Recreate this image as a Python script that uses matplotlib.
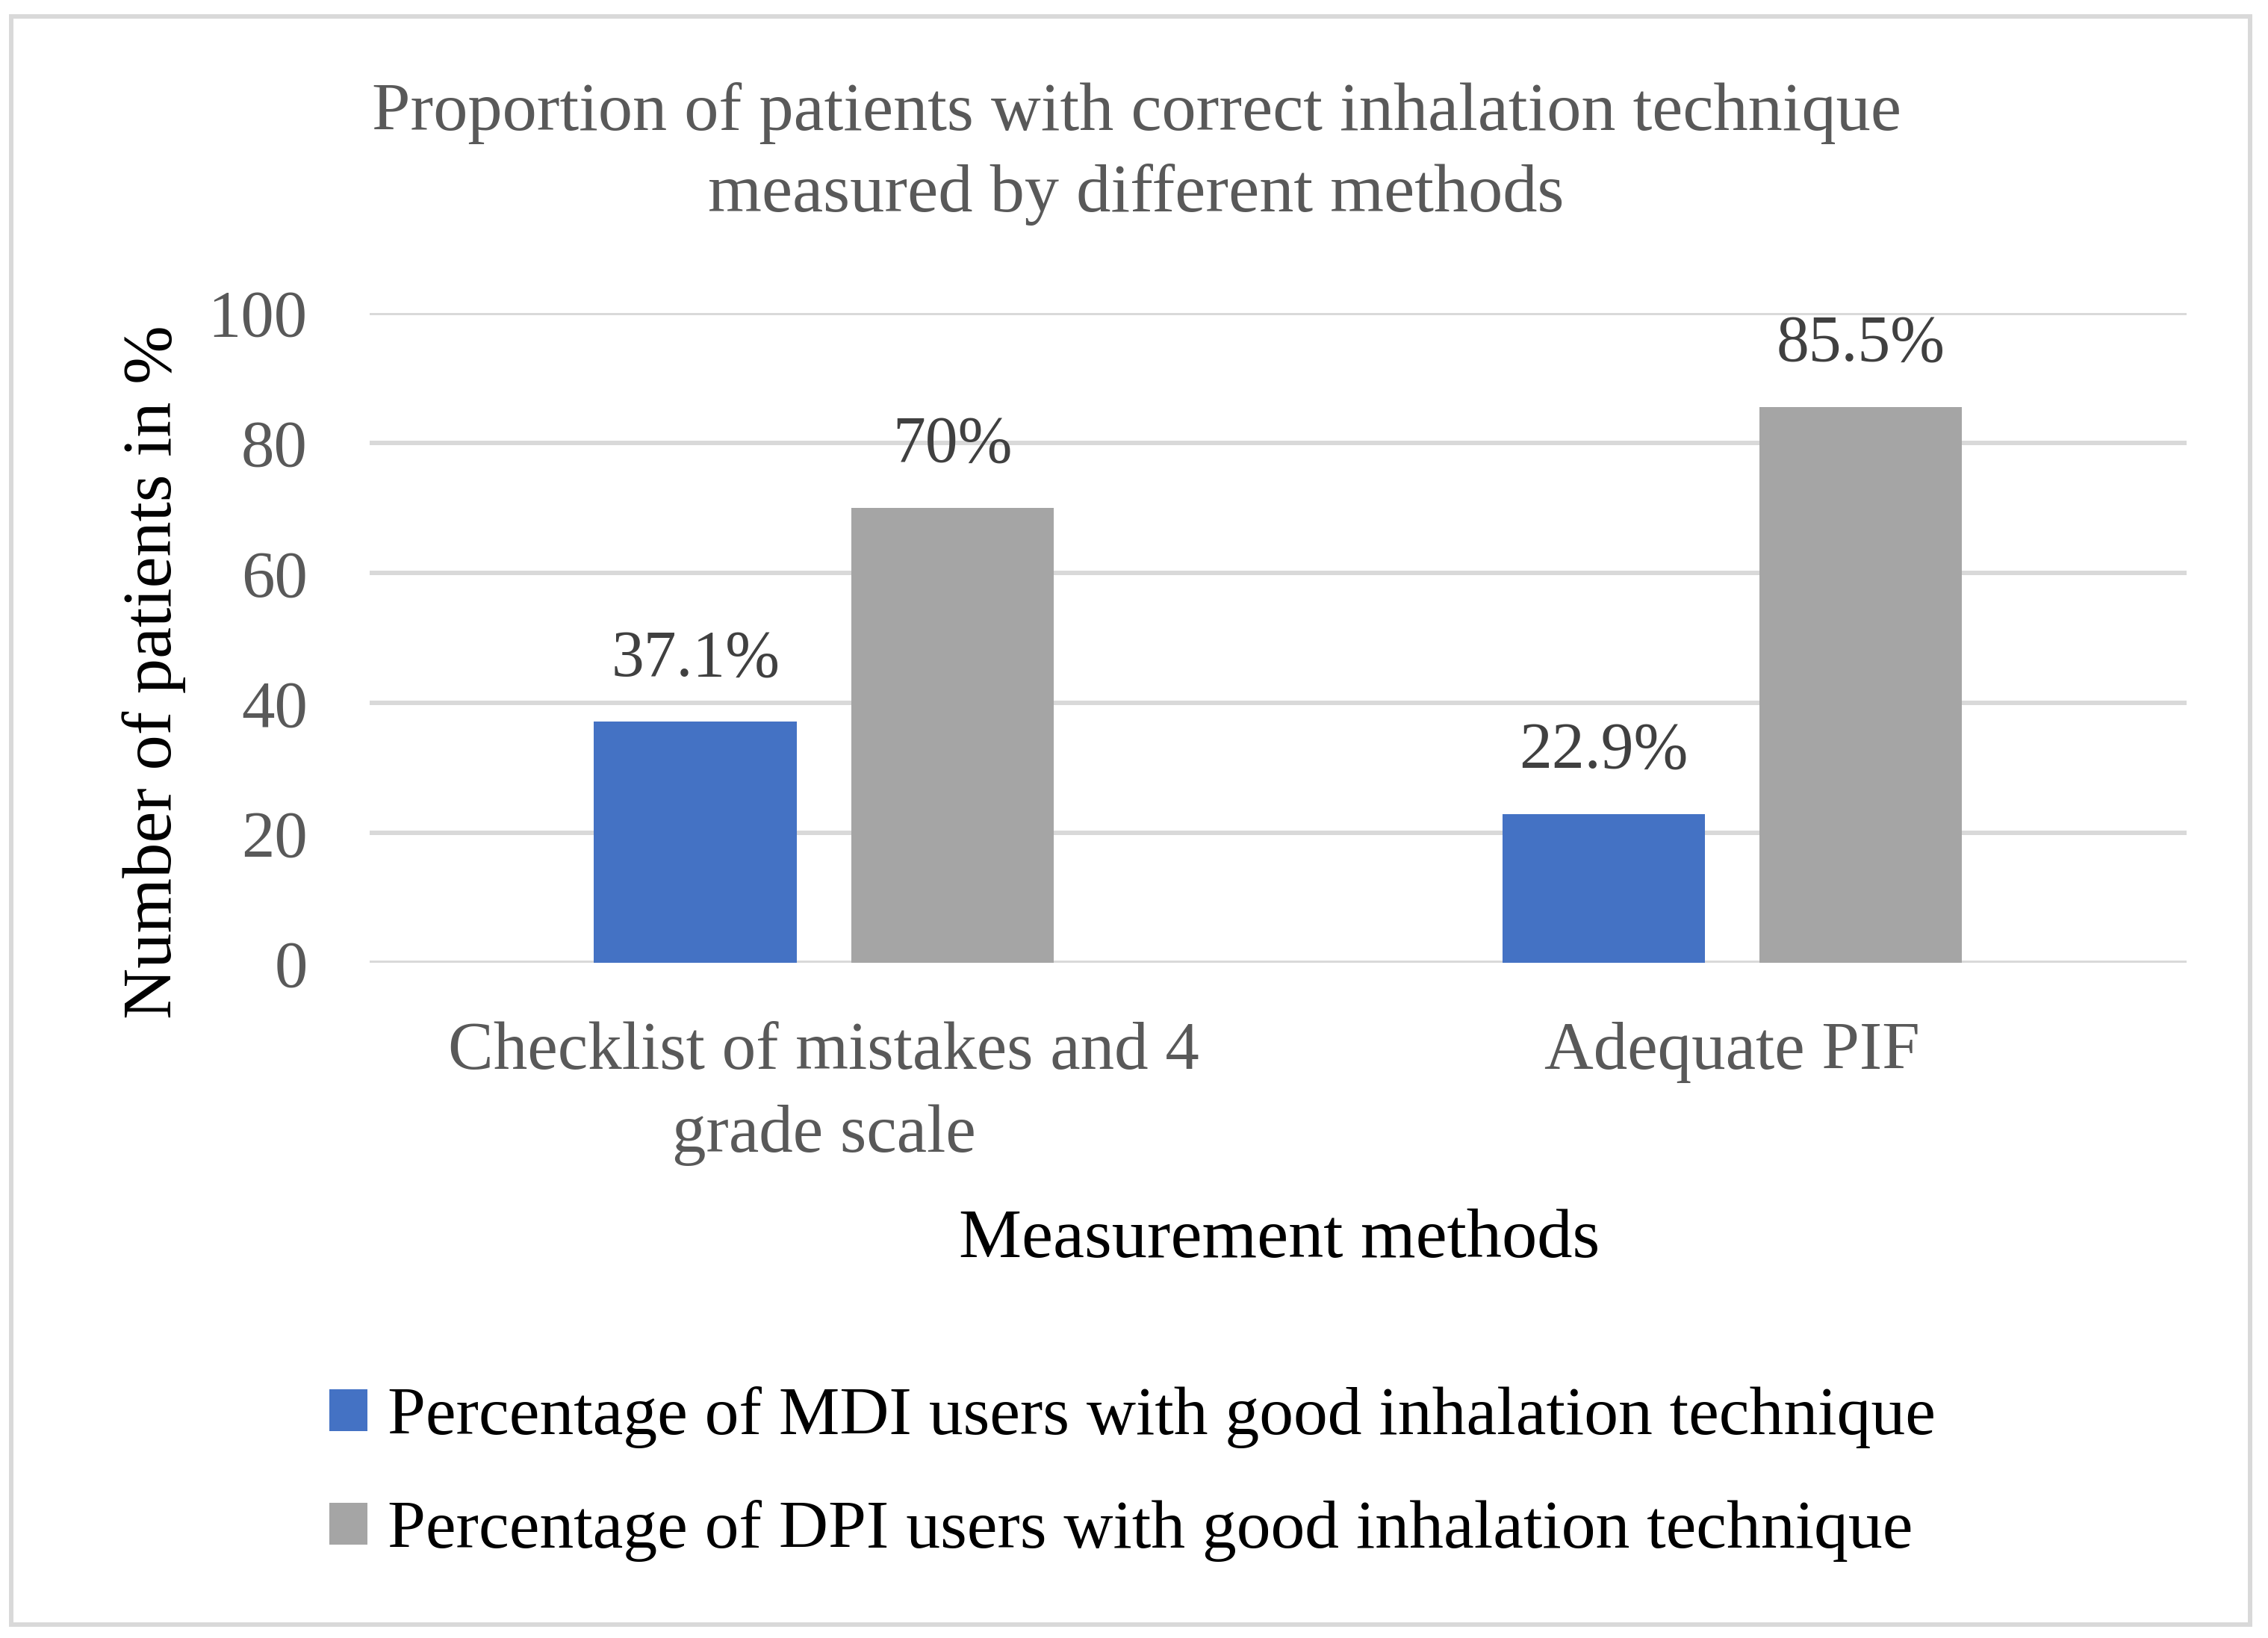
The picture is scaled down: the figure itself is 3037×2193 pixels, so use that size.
import matplotlib
matplotlib.use("Agg")
import matplotlib.pyplot as plt
from matplotlib.patches import Rectangle
import numpy as np

# data
categories = ["Checklist of mistakes and 4\ngrade scale", "Adequate PIF"]
mdi_values = [37.1, 22.9]
dpi_values = [70, 85.5]
mdi_labels = ["37.1%", "22.9%"]
dpi_labels = ["70%", "85.5%"]
series_names = ["Percentage of MDI users with good inhalation technique",
                "Percentage of DPI users with good inhalation technique"]
yticks = [0, 20, 40, 60, 80, 100]

plt.rcParams['font.family'] = ['Liberation Serif', 'DejaVu Serif']

fig = plt.figure(figsize=(30.37, 21.93), dpi=100)
ax = fig.add_axes([0.163, 0.412, 0.801, 0.397])

x = np.arange(len(categories))
w = 0.223
off = w / 2 + 0.03
b1 = ax.bar(x - off, mdi_values, w, color="#4472C4", label=series_names[0], zorder=3)
b2 = ax.bar(x + off, dpi_values, w, color="#A5A5A5", label=series_names[1], zorder=3)

ax.bar_label(b1, labels=mdi_labels, padding=31, fontsize=63, color="#404040")
ax.bar_label(b2, labels=dpi_labels, padding=31, fontsize=63, color="#404040")

ax.set_xlim(-0.5, 1.5)
ax.set_ylim(0, 100)
ax.set_yticks(yticks)
ax.set_xticks(x)
ax.set_xticklabels(categories, fontsize=65.5, color="#595959", linespacing=1.45)
ax.tick_params(axis='y', labelsize=64, labelcolor="#595959", length=0, pad=60)
ax.tick_params(axis='x', length=0, pad=56)
ax.grid(axis='y', color="#D9D9D9", linewidth=4.3, zorder=0)
for s in ax.spines.values():
    s.set_visible(False)

fig.text(0.501, 0.906, "Proportion of patients with correct inhalation technique\nmeasured by different methods",
         ha='center', va='center', fontsize=66.5, color="#595959", linespacing=1.4)
fig.text(0.068, 0.59, "Number of patients in %", rotation=90, ha='center', va='center',
         fontsize=68, color="black")
fig.text(0.564, 0.243, "Measurement methods", ha='center', va='center', fontsize=68, color="black")

fig.legend(handles=[b1, b2], loc='center left', bbox_to_anchor=(0.118, 0.10), frameon=False,
           fontsize=66, handlelength=0.56, handleheight=0.56, handletextpad=0.29,
           labelspacing=0.75)

fig.patches.append(Rectangle((0.005, 0.008), 0.987, 0.982, transform=fig.transFigure,
                             fill=False, edgecolor="#D9D9D9", linewidth=4.3))

fig.savefig("out.png", dpi=100, facecolor="white")
